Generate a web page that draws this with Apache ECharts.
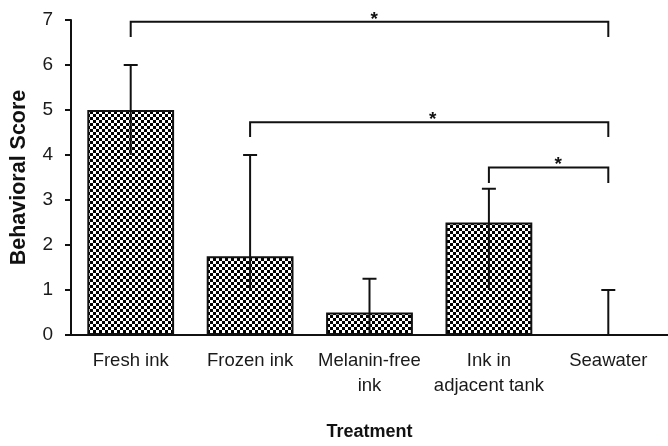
<!DOCTYPE html>
<html>
<head>
<meta charset="utf-8">
<script src="https://cdn.jsdelivr.net/npm/echarts@6/dist/echarts.min.js"></script>
<style>
html,body{margin:0;padding:0;background:#fff;}
#chart{width:668px;height:446px;}
</style>
</head>
<body>
<div id="chart"></div>
<script>
// ---- data ----
var categories = ['Fresh ink', 'Frozen ink', 'Melanin-free\nink', 'Ink in\nadjacent tank', 'Seawater'];
var scores = [5, 1.75, 0.5, 2.5, 0];
var errLow = [4, 1.0, 0, 1.0, 0];
var errHigh = [6, 4, 1.25, 3.25, 1];
var yTicks = [0, 1, 2, 3, 4, 5, 6, 7];
// significance brackets: from category, to category, bar height, leg bottom, star position
var bracketFrom = [0, 1, 3];
var bracketTo = [4, 4, 4];
var bracketTop = [6.96, 4.73, 3.72];
var bracketLegBottom = [6.62, 4.4, 3.38];
var bracketStarPos = [2.04, 2.53, 3.58];
var bracketLabel = ['*', '*', '*'];

// ---- checkerboard pattern ----
var pat = document.createElement('canvas');
pat.width = 6; pat.height = 6;
var pc = pat.getContext('2d');
pc.fillStyle = '#000'; pc.fillRect(0, 0, 6, 6);
pc.fillStyle = '#fff'; pc.fillRect(0, 0, 3, 3); pc.fillRect(3, 3, 3, 3);

var chart = echarts.init(document.getElementById('chart'), null, {renderer: 'canvas'});

var errData = categories.map(function (c, i) { return [i, errLow[i], errHigh[i]]; });
var brData = bracketFrom.map(function (f, i) {
  return [f, bracketTo[i], bracketTop[i], bracketLegBottom[i], bracketStarPos[i], i];
});

function catX(api, pos) {
  var a = Math.floor(pos), b = Math.ceil(pos);
  var xa = api.coord([a, 0])[0];
  if (a === b) return xa;
  var xb = api.coord([b, 0])[0];
  return xa + (xb - xa) * (pos - a);
}

var lineStyle = {stroke: '#111', lineWidth: 2};

var option = {
  animation: false,
  backgroundColor: '#fff',
  grid: {left: 71, right: 0, top: 20, bottom: 111, containLabel: false, outerBoundsMode: 'none'},
  xAxis: {
    type: 'category',
    data: categories,
    axisLine: {lineStyle: {color: '#111', width: 2}},
    axisTick: {show: false},
    axisLabel: {interval: 0, color: '#1a1a1a', fontSize: 18.5, fontFamily: 'Liberation Sans', lineHeight: 25, margin: 13},
    name: 'Treatment',
    nameLocation: 'middle',
    nameGap: 88,
    nameTextStyle: {color: '#111', fontSize: 18, fontWeight: 'bold', fontFamily: 'Liberation Sans'}
  },
  yAxis: {
    type: 'value',
    min: 0, max: 7, interval: 1,
    splitLine: {show: false},
    axisLine: {show: true, lineStyle: {color: '#111', width: 2}},
    axisTick: {show: true, length: 6, lineStyle: {color: '#111', width: 2}},
    axisLabel: {color: '#1a1a1a', fontSize: 19, fontFamily: 'Liberation Sans', margin: 18,
      formatter: function (v) { return yTicks.indexOf(v) >= 0 ? String(v) : ''; }},
    name: 'Behavioral Score',
    nameLocation: 'middle',
    nameGap: 41,
    nameTextStyle: {color: '#111', fontSize: 21.5, fontWeight: 'bold', fontFamily: 'Liberation Sans'}
  },
  series: [
    {
      type: 'bar',
      data: scores,
      barWidth: '72.7%',
      itemStyle: {color: {image: pat, repeat: 'repeat'}, borderColor: '#111', borderWidth: 2},
      z: 2
    },
    {
      type: 'custom',
      data: errData,
      encode: {x: 0, y: [1, 2]},
      clip: false,
      z: 5,
      renderItem: function (params, api) {
        var i = api.value(0);
        var lo = api.coord([i, api.value(1)]);
        var hi = api.coord([i, api.value(2)]);
        var hw = 7;
        return {
          type: 'group',
          children: [
            {type: 'line', shape: {x1: lo[0], y1: lo[1], x2: hi[0], y2: hi[1]}, style: lineStyle},
            {type: 'line', shape: {x1: hi[0] - hw, y1: hi[1], x2: hi[0] + hw, y2: hi[1]}, style: lineStyle}
          ]
        };
      }
    },
    {
      type: 'custom',
      data: brData,
      encode: {x: [0, 1], y: [2, 3]},
      clip: false,
      z: 5,
      renderItem: function (params, api) {
        var x1 = catX(api, api.value(0));
        var x2 = catX(api, api.value(1));
        var yt = api.coord([0, api.value(2)])[1];
        var yb = api.coord([0, api.value(3)])[1];
        var xs = catX(api, api.value(4));
        var lbl = bracketLabel[api.value(5)];
        return {
          type: 'group',
          children: [
            {type: 'polyline', shape: {points: [[x1, yb], [x1, yt], [x2, yt], [x2, yb]]}, style: {stroke: '#111', lineWidth: 2, fill: null}},
            {type: 'text', x: xs, y: yt + 7, style: {text: lbl, fill: '#111', fontSize: 19, fontWeight: 'bold', fontFamily: 'Liberation Sans', align: 'center', verticalAlign: 'bottom'}}
          ]
        };
      }
    }
  ]
};
chart.setOption(option);
</script>
</body>
</html>
